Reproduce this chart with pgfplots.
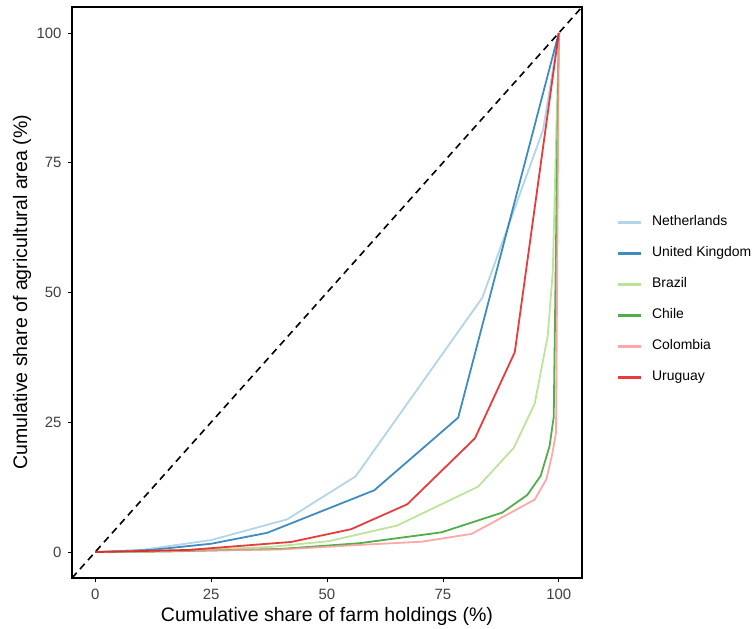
\documentclass[border=0pt]{standalone}
\usepackage{pgfplots}
\pgfplotsset{compat=1.18}
\usepackage{fontspec}
\setmainfont{Liberation Sans}
\definecolor{cNL}{HTML}{A6CEE3}
\definecolor{cUK}{HTML}{1F78B4}
\definecolor{cBR}{HTML}{B2DF8A}
\definecolor{cCL}{HTML}{33A02C}
\definecolor{cCO}{HTML}{FB9A99}
\definecolor{cUY}{HTML}{E31A1C}
\begin{document}
\begin{tikzpicture}
\begin{axis}[
  scale only axis, width=510bp, height=571bp,
  at={(0,0)}, anchor=south west,
  xmin=-5, xmax=105, ymin=-5, ymax=105,
  xtick={0,25,50,75,100}, ytick={0,25,50,75,100},
  xtick pos=bottom, ytick pos=left,
  tick align=outside, major tick length=4bp,
  tick style={black, line width=0.8bp},
  axis line style={black, line width=1.3bp},
  /pgf/number format/assume math mode=true,
  ticklabel style={font=\fontsize{15}{18}\selectfont, text=black!75},
  xticklabel style={yshift=-4bp},
  yticklabel style={xshift=-3bp},
  xlabel={Cumulative share of farm holdings (\%)},
  ylabel={Cumulative share of agricultural area (\%)},
  label style={font=\fontsize{19.6}{23}\selectfont},
  xlabel style={at={(axis description cs:0.5,-0.067)}, anchor=center},
  ylabel style={at={(axis description cs:-0.098,0.5)}, anchor=center},
  legend style={draw=none, at={(1.0686,0.487)}, anchor=west,
    inner sep=0bp, outer sep=0bp,
    font=\fontsize{14}{16}\selectfont, row sep=18bp,
    nodes={inner sep=0bp, text height=10bp, text depth=3bp},
    /tikz/every odd column/.append style={column sep=9.5bp}},
  legend cell align=left,
  legend image code/.code={\draw[line width=2.6bp, opacity=0.85] (0bp,0bp) -- (23bp,0bp);},
  every axis plot/.append style={line width=1.8bp, opacity=0.85},
]
\addplot[black, dashed, dash pattern=on 7bp off 5bp, line width=1.6bp, opacity=1, forget plot] coordinates {(-5,-5) (105,105)};
\addplot[cNL] coordinates {(0,0) (10,0.4) (25,2.3) (41.4,6.3) (56.2,14.6) (83.5,49) (96.6,81.3) (100,100)};
\addlegendentry{Netherlands}
\addplot[cUK] coordinates {(0,0) (12,0.4) (25,1.6) (37.1,3.7) (60.2,11.9) (78.3,25.9) (100,100)};
\addlegendentry{United Kingdom}
\addplot[cBR] coordinates {(0,0) (25,0.5) (38,1.0) (50.4,2.1) (65.1,5.1) (82.6,12.6) (90.3,20.1) (94.8,28.6) (97.6,41.6) (98.7,54) (100,100)};
\addlegendentry{Brazil}
\addplot[cCL] coordinates {(0,0) (15,0.1) (40,0.6) (57,1.7) (74.7,3.8) (87.8,7.6) (93.2,11) (96.1,14.7) (98,20.4) (98.9,26) (100,100)};
\addlegendentry{Chile}
\addplot[cCO] coordinates {(0,0) (40,0.5) (57.6,1.4) (70.5,2) (81.2,3.5) (94.8,10.1) (97.3,14) (98.5,18.5) (99.4,23) (100,100)};
\addlegendentry{Colombia}
\addplot[cUY] coordinates {(0,0) (20,0.4) (42.3,1.95) (55.2,4.4) (67.3,9.2) (81.9,21.9) (90.5,38.5) (100,100)};
\addlegendentry{Uruguay}
\end{axis}
\pgfresetboundingbox
\path (-72bp,-51bp) rectangle (680bp,578bp);
\end{tikzpicture}
\end{document}
